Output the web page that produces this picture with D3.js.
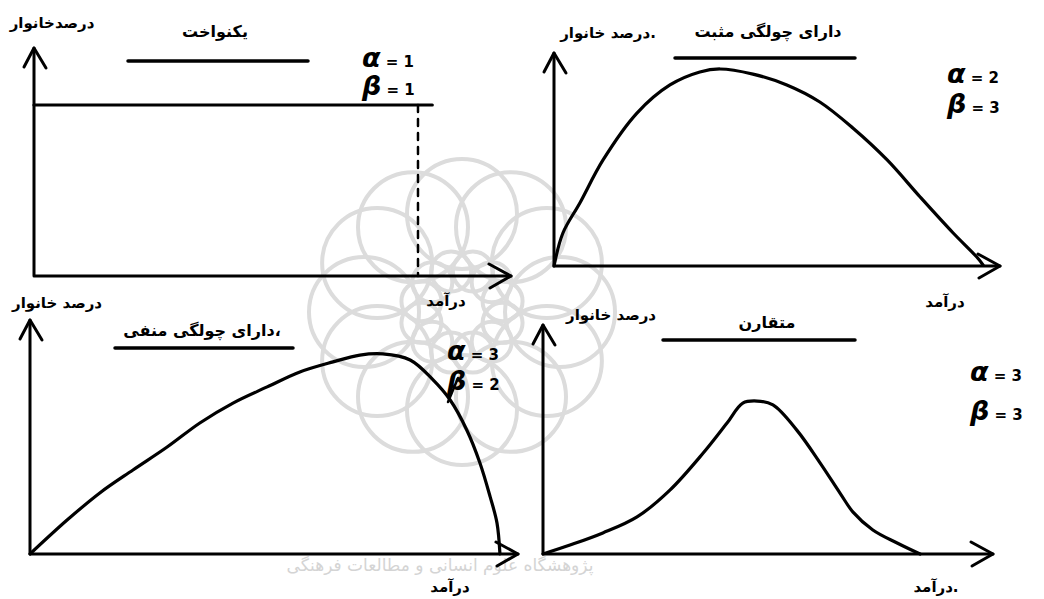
<!DOCTYPE html>
<html lang="fa">
<head>
<meta charset="UTF-8">
<title>Beta distribution shapes</title>
<script src="https://cdn.jsdelivr.net/npm/d3@7/dist/d3.min.js"></script>
<style>
  body { margin: 0; background: #fff; }
  svg text { font-family: "DejaVu Sans", sans-serif; font-weight: bold; fill: #000; }
  .ax, .curve, .rule { fill: none; stroke: #000; stroke-linecap: round; stroke-linejoin: round; }
</style>
</head>
<body>
<svg id="chart" width="1044" height="599"></svg>
<script>
// values, x and y in 0..100 of each panel's axes
var uniformCurve = [[0, 75], [83.5, 75]];
var uniformEndX = 80.5;

var positiveSkewCurve = [
  [0, 0], [2, 15.5], [5.8, 29.6], [11, 49.8], [18.6, 71.8], [26, 85], [32.7, 91.1],
  [37.2, 92.5], [44.6, 90.1], [52.2, 85], [59.6, 77], [67, 64.8], [74.7, 49.8],
  [82.1, 32.4], [89.5, 15.5], [94.8, 4.2], [96.2, 0.5]
];

var negativeSkewCurve = [
  [0, 0], [7.6, 14.5], [14.3, 26.1], [21.1, 35.9], [28.1, 45.7], [34.8, 56], [41.6, 64.5],
  [48.6, 71.4], [55.3, 77.8], [62.1, 82.1], [67.6, 85], [72.3, 85.5], [77.9, 82.9],
  [82.6, 74.4], [86.1, 65.8], [89.5, 53], [92.2, 38.9], [94.3, 24.4], [95.7, 13.2], [96.3, 0]
];

var symmetricCurve = [
  [0, 0], [6, 3.9], [13.3, 9.2], [20.9, 16.2], [28.2, 27.9], [35.6, 44.1], [40.9, 57.2],
  [44.4, 65.9], [47.6, 66.8], [51.1, 65.1], [56.4, 54.1], [61.6, 39.7], [66, 26.6],
  [68.9, 18.3], [73.3, 10.5], [78.7, 4.8], [83.8, 0]
];

var titles = ["یکنواخت", "دارای چولگی مثبت", "،دارای چولگی منفی", "متقارن"];
var yLabels = ["درصدخانوار", ".درصد خانوار", "درصد خانوار", "درصد خانوار"];
var xLabels = ["درآمد", "درآمد", "درآمد", ".درآمد"];
var alphas = ["1", "2", "3", "3"];
var betas = ["1", "3", "2", "3"];

var svg = d3.select("#chart");

// faint watermark rosette behind the panels
var wm = svg.append("g").attr("stroke", "#dcdcdc").attr("stroke-width", 4).attr("fill", "none");
d3.range(12).forEach(function (i) {
  var a = i * Math.PI / 6;
  wm.append("circle").attr("cx", 462 + 98 * Math.cos(a)).attr("cy", 312 + 98 * Math.sin(a)).attr("r", 55);
  wm.append("circle").attr("cx", 462 + 42 * Math.cos(a + Math.PI / 12)).attr("cy", 312 + 42 * Math.sin(a + Math.PI / 12)).attr("r", 20);
});
svg.append("text").attr("x", 440).attr("y", 571).attr("text-anchor", "middle").attr("direction", "rtl")
  .attr("font-size", 17).style("fill", "#d4d4d4").style("font-weight", "normal")
  .text("پژوهشگاه علوم انسانی و مطالعات فرهنگی");

// panel boxes: origin and arrow tips
var panels = [
  { ox: 34, oy: 276, xt: 511, yt: 48, curve: uniformCurve,
    title: [215, 37], under: [128, 308, 61], ylab: [52, 28], xlab: [446, 306], ab: [362, 67, 95] },
  { ox: 554, oy: 266, xt: 1000, yt: 53, curve: positiveSkewCurve,
    title: [768, 37], under: [675, 855, 58], ylab: [608, 38], xlab: [945, 307], ab: [947, 83, 113] },
  { ox: 30, oy: 554, xt: 518, yt: 320, curve: negativeSkewCurve,
    title: [202, 336], under: [115, 293, 348], ylab: [57, 308], xlab: [450, 592], ab: [447, 360, 390] },
  { ox: 543, oy: 554, xt: 993, yt: 325, curve: symmetricCurve,
    title: [767, 328], under: [663, 855, 340], ylab: [611, 320], xlab: [936, 592], ab: [970, 381, 420] }
];

panels.forEach(function (p, i) {
  var g = svg.append("g");
  var x = d3.scaleLinear().domain([0, 100]).range([p.ox, p.xt]);
  var y = d3.scaleLinear().domain([0, 100]).range([p.oy, p.yt]);

  // axes with open arrowheads
  g.append("path").attr("class", "ax").attr("stroke-width", 3)
    .attr("d", "M" + p.ox + "," + p.oy + "H" + p.xt + "M" + p.ox + "," + p.oy + "V" + p.yt);
  g.append("path").attr("class", "ax").attr("stroke-width", 3)
    .attr("d", "M" + (p.ox - 10) + "," + (p.yt + 19) + "L" + p.ox + "," + p.yt + "L" + (p.ox + 12) + "," + (p.yt + 20));
  g.append("path").attr("class", "ax").attr("stroke-width", 3)
    .attr("d", "M" + (p.xt - 22) + "," + (p.oy - 12) + "L" + p.xt + "," + p.oy + "L" + (p.xt - 21) + "," + (p.oy + 12));

  var line = d3.line().x(function (d) { return x(d[0]); }).y(function (d) { return y(d[1]); })
    .curve(i === 0 ? d3.curveLinear : d3.curveCatmullRom.alpha(0.5));
  g.append("path").attr("class", "curve").attr("stroke-width", 3.2).attr("d", line(p.curve));

  if (i === 0) {
    g.append("line").attr("class", "rule").attr("stroke-width", 2.5).attr("stroke-dasharray", "7,7")
      .attr("x1", x(uniformEndX)).attr("x2", x(uniformEndX))
      .attr("y1", y(uniformCurve[0][1])).attr("y2", p.oy);
  }
  if (i === 2) {
    g.append("line").attr("class", "rule").attr("stroke-width", 2.5)
      .attr("x1", 458).attr("y1", 378).attr("x2", 448).attr("y2", 402);
  }

  // title with underline
  g.append("text").attr("x", p.title[0]).attr("y", p.title[1]).attr("text-anchor", "middle")
    .attr("direction", "rtl").attr("font-size", 16).text(titles[i]);
  g.append("line").attr("class", "rule").attr("stroke-width", 3.5)
    .attr("x1", p.under[0]).attr("x2", p.under[1]).attr("y1", p.under[2]).attr("y2", p.under[2]);

  g.append("text").attr("x", p.ylab[0]).attr("y", p.ylab[1]).attr("text-anchor", "middle")
    .attr("direction", "rtl").attr("font-size", 15).text(yLabels[i]);
  g.append("text").attr("x", p.xlab[0]).attr("y", p.xlab[1]).attr("text-anchor", "middle")
    .attr("direction", "rtl").attr("font-size", 15).text(xLabels[i]);

  var ta = g.append("text").attr("x", p.ab[0]).attr("y", p.ab[1]).attr("direction", "ltr");
  ta.append("tspan").attr("font-size", 27).attr("font-style", "italic").text("α");
  ta.append("tspan").attr("font-size", 15).text(" = " + alphas[i]);
  var tb = g.append("text").attr("x", p.ab[0]).attr("y", p.ab[2]).attr("direction", "ltr");
  tb.append("tspan").attr("font-size", 27).attr("font-style", "italic").text("β");
  tb.append("tspan").attr("font-size", 15).text(" = " + betas[i]);
});
</script>
</body>
</html>
